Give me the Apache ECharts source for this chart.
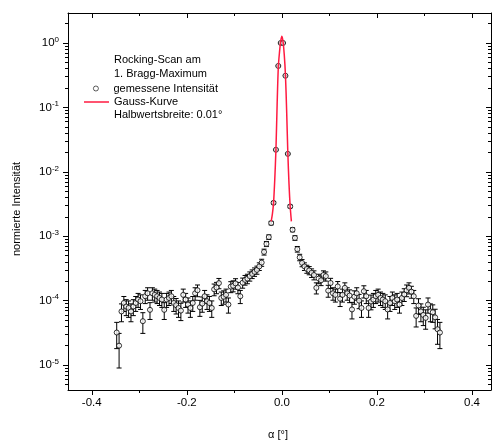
<!DOCTYPE html>
<html>
<head>
<meta charset="UTF-8">
<title>Rocking-Scan</title>
<script src="https://cdn.jsdelivr.net/npm/echarts@6/dist/echarts.min.js"></script>
<style>
  html, body { margin: 0; padding: 0; background: #fff; }
  #main { width: 492px; height: 441px; }
</style>
</head>
<body>
<div id="main"></div>
<script type="text/javascript">
// Winkel alpha [°]
var alpha = [
  -0.3475,-0.3425,-0.3375,-0.3325,-0.3275,-0.3225,-0.3175,-0.3125,-0.3075,-0.3025,
  -0.2975,-0.2925,-0.2875,-0.2825,-0.2775,-0.2725,-0.2675,-0.2625,-0.2575,-0.2525,
  -0.2475,-0.2425,-0.2375,-0.2325,-0.2275,-0.2225,-0.2175,-0.2125,-0.2075,-0.2025,
  -0.1975,-0.1925,-0.1875,-0.1825,-0.1775,-0.1725,-0.1675,-0.1625,-0.1575,-0.1525,
  -0.1475,-0.1425,-0.1375,-0.1325,-0.1275,-0.1225,-0.1175,-0.1125,-0.1075,-0.1025,
  -0.0975,-0.0925,-0.0875,-0.0825,-0.0775,-0.0725,-0.0675,-0.0625,-0.0575,-0.0525,
  -0.0475,-0.0425,-0.0375,-0.0325,-0.0275,-0.0225,-0.0175,-0.0125,-0.0075,-0.0025,
  0.0025,0.0075,0.0125,0.0175,0.0225,0.0275,0.0325,0.0375,0.0425,0.0475,
  0.0525,0.0575,0.0625,0.0675,0.0725,0.0775,0.0825,0.0875,0.0925,0.0975,
  0.1025,0.1075,0.1125,0.1175,0.1225,0.1275,0.1325,0.1375,0.1425,0.1475,
  0.1525,0.1575,0.1625,0.1675,0.1725,0.1775,0.1825,0.1875,0.1925,0.1975,
  0.2025,0.2075,0.2125,0.2175,0.2225,0.2275,0.2325,0.2375,0.2425,0.2475,
  0.2525,0.2575,0.2625,0.2675,0.2725,0.2775,0.2825,0.2875,0.2925,0.2975,
  0.3025,0.3075,0.3125,0.3175,0.3225,0.3275,0.3325
];
// gemessene Intensitaet (normiert)
var intensitaet = [
  3.2e-5,2.0e-5,6.8e-5,9.2e-5,8.1e-5,7.7e-5,6.8e-5,8.1e-5,9.2e-5,1.04e-4,
  9.8e-5,4.8e-5,1.17e-4,1.3e-4,7.2e-5,1.3e-4,1.23e-4,1.17e-4,1.1e-4,1.04e-4,
  7.2e-5,1.04e-4,1.1e-4,1.17e-4,9.2e-5,8.5e-5,7.7e-5,7.0e-5,1.23e-4,1.04e-4,
  8.7e-5,7.7e-5,9.2e-5,1.3e-4,1.45e-4,7.9e-5,9.0e-5,1.17e-4,9.8e-5,9.2e-5,
  7.7e-5,1.5e-4,1.6e-4,1.87e-4,1.1e-4,1.15e-4,1.23e-4,8.7e-5,1.65e-4,1.7e-4,
  1.85e-4,1.6e-4,1.17e-4,1.9e-4,2.1e-4,2.2e-4,2.4e-4,2.6e-4,2.8e-4,3.0e-4,
  3.4e-4,3.9e-4,5.7e-4,7.6e-4,9.7e-4,1.6e-3,3.3e-3,0.022,0.44,1.0,
  1.0,0.31,0.019,2.9e-3,1.26e-3,9.4e-4,6.3e-4,4.7e-4,3.85e-4,3.4e-4,
  3.1e-4,2.95e-4,2.7e-4,2.5e-4,1.58e-4,2.2e-4,2.07e-4,2.5e-4,2.4e-4,1.43e-4,
  1.88e-4,1.3e-4,1.23e-4,1.66e-4,1.07e-4,1.23e-4,1.58e-4,1.3e-4,1.2e-4,7.3e-5,
  1.15e-4,1.3e-4,1.0e-4,7.7e-5,1.4e-4,1.17e-4,7.7e-5,9.7e-5,1.04e-4,1.17e-4,
  1.23e-4,1.1e-4,1.04e-4,9.8e-5,7.3e-5,9.2e-5,1.1e-4,9.8e-5,1.04e-4,8.7e-5,
  1.1e-4,1.25e-4,1.45e-4,1.58e-4,1.38e-4,1.17e-4,5.8e-5,8.4e-5,6.8e-5,6.0e-5,
  5.4e-5,8.7e-5,6.8e-5,6.6e-5,5.5e-5,3.6e-5,3.2e-5
];
// Fehler (+/-)
var fehler = [
  1.4e-5,1.1e-5,2.1e-5,2.4e-5,2.25e-5,2.2e-5,2.1e-5,2.25e-5,2.4e-5,2.55e-5,
  2.5e-5,1.7e-5,2.7e-5,2.85e-5,2.1e-5,2.85e-5,2.8e-5,2.7e-5,2.6e-5,2.55e-5,
  2.1e-5,2.55e-5,2.6e-5,2.7e-5,2.4e-5,2.3e-5,2.2e-5,2.1e-5,2.8e-5,2.55e-5,
  2.3e-5,2.2e-5,2.4e-5,2.85e-5,3.0e-5,2.2e-5,2.4e-5,2.7e-5,2.5e-5,2.4e-5,
  2.2e-5,3.1e-5,3.2e-5,3.4e-5,2.6e-5,2.7e-5,2.8e-5,2.3e-5,3.2e-5,3.3e-5,
  3.4e-5,3.2e-5,2.7e-5,3.4e-5,3.6e-5,3.7e-5,3.9e-5,4.0e-5,4.2e-5,4.3e-5,
  4.6e-5,4.9e-5,6.0e-5,6.9e-5,7.8e-5,1.0e-4,1.4e-4,3.7e-4,1.7e-3,2.5e-3,
  2.5e-3,1.4e-3,3.4e-4,1.35e-4,8.9e-5,7.7e-5,6.3e-5,5.4e-5,4.9e-5,4.6e-5,
  4.4e-5,4.3e-5,4.1e-5,4.0e-5,3.1e-5,3.7e-5,3.6e-5,4.0e-5,3.9e-5,3.0e-5,
  3.4e-5,2.85e-5,2.8e-5,3.2e-5,2.6e-5,2.8e-5,3.1e-5,2.85e-5,2.7e-5,2.1e-5,
  2.7e-5,2.85e-5,2.5e-5,2.2e-5,3.0e-5,2.7e-5,2.2e-5,2.5e-5,2.55e-5,2.7e-5,
  2.8e-5,2.6e-5,2.55e-5,2.5e-5,2.1e-5,2.4e-5,2.6e-5,2.5e-5,2.55e-5,2.3e-5,
  2.6e-5,2.8e-5,3.0e-5,3.1e-5,2.9e-5,2.7e-5,1.9e-5,2.3e-5,2.1e-5,1.9e-5,
  1.8e-5,2.3e-5,2.1e-5,2.0e-5,1.85e-5,1.5e-5,1.4e-5
];
// Gauss-Kurve
var gaussX = [-0.0225,-0.020,-0.0175,-0.015,-0.0125,-0.010,-0.0075,-0.005,-0.0025,0,
              0.0025,0.005,0.0075,0.010,0.0125,0.015,0.0175,0.020];
var gaussY = [1.7e-3,2.2e-3,3.3e-3,7.5e-3,0.022,0.11,0.42,0.72,1.06,1.27,
              1.04,0.66,0.32,0.09,0.020,6.5e-3,2.9e-3,1.7e-3];

// Achsen
var xTicks = [-0.4,-0.2,0.0,0.2,0.4];
var xMinorTicks = [-0.3,-0.1,0.1,0.3];
var yTicks = [1e-5,1e-4,1e-3,1e-2,1e-1,1];
var yMinorFaktor = [2,3,4,5,6,7,8,9];
var xMin = -0.45, xMax = 0.44;
var yMin = 4.1e-6, yMax = 2.92;

var yMinorTicks = [];
[1e-6,1e-5,1e-4,1e-3,1e-2,1e-1,1].forEach(function (d) {
  yMinorFaktor.forEach(function (f) {
    var v = d * f;
    if (v > yMin && v < yMax) yMinorTicks.push(v);
  });
});

var punkte = [], balken = [], kurve = [];
for (var i = 0; i < alpha.length; i++) {
  punkte.push([alpha[i], intensitaet[i]]);
  balken.push([alpha[i], intensitaet[i] - fehler[i], intensitaet[i] + fehler[i]]);
}
for (var j = 0; j < gaussX.length; j++) {
  kurve.push([gaussX[j], gaussY[j]]);
}

var schrift = '"Liberation Sans", Arial, sans-serif';
var linie = { color: '#000', width: 1 };
var rot = '#ff1a40';

function xAchse(pos, werte, laenge, innen, mitLinie, mitLabel) {
  return {
    type: 'value', position: pos, min: xMin, max: xMax,
    axisLine: { show: mitLinie, onZero: false, lineStyle: linie },
    axisTick: { show: true, inside: innen, length: laenge, customValues: werte, lineStyle: linie },
    axisLabel: {
      show: mitLabel, customValues: werte, margin: 7,
      color: '#000', fontFamily: schrift, fontSize: 11.5,
      formatter: function (v) { return v.toFixed(1); }
    },
    splitLine: { show: false }
  };
}
function yAchse(pos, werte, laenge, innen, mitLinie, mitLabel) {
  return {
    type: 'log', logBase: 10, position: pos, min: yMin, max: yMax,
    axisLine: { show: mitLinie, onZero: false, lineStyle: linie },
    axisTick: { show: true, inside: innen, length: laenge, customValues: werte, lineStyle: linie },
    axisLabel: {
      show: mitLabel, customValues: werte, margin: 9,
      color: '#000', fontFamily: schrift,
      formatter: function (v) {
        var e = Math.round(Math.log(v) / Math.LN10);
        return '{b|10}{s|' + e + '}';
      },
      rich: {
        b: { fontSize: 11.5, fontFamily: schrift, color: '#000' },
        s: { fontSize: 8, fontFamily: schrift, color: '#000', padding: [0, 0, 7, 0] }
      }
    },
    splitLine: { show: false }
  };
}

var myChart = echarts.init(document.getElementById('main'), null, { renderer: 'canvas' });

var legendText = { color: '#000', fontFamily: schrift, fontSize: 11 };

var option = {
  animation: false,
  backgroundColor: '#fff',
  grid: { left: 68, right: 1, top: 13, bottom: 51 },
  xAxis: [
    xAchse('bottom', xTicks, 5, false, true, true),
    xAchse('bottom', xMinorTicks, 3, false, false, false),
    xAchse('top', xTicks, 5, true, true, false),
    xAchse('top', xMinorTicks, 3, true, false, false)
  ],
  yAxis: [
    yAchse('left', yTicks, 5, false, true, true),
    yAchse('right', yTicks, 5, true, true, false),
    yAchse('left', yMinorTicks, 3, false, false, false),
    yAchse('right', yMinorTicks, 3, true, false, false)
  ],
  legend: [
    {
      data: ['gemessene Intensität'],
      left: 93, top: 83, padding: 0,
      itemWidth: 25, itemHeight: 5,
      itemStyle: { borderWidth: 0.8 },
      selectedMode: false,
      textStyle: legendText
    },
    {
      data: [{ name: 'Gauss-Kurve', icon: 'rect' }],
      left: 84, top: 96.5, padding: 0,
      itemWidth: 25, itemHeight: 1.5,
      selectedMode: false,
      textStyle: legendText
    }
  ],
  graphic: [
    { type: 'text', left: 114, top: 54.5, style: { text: 'Rocking-Scan am', font: '11px ' + schrift, fill: '#000' } },
    { type: 'text', left: 114, top: 68.5, style: { text: '1. Bragg-Maximum', font: '11px ' + schrift, fill: '#000' } },
    { type: 'text', left: 114, top: 109.5, style: { text: 'Halbwertsbreite: 0.01°', font: '11px ' + schrift, fill: '#000' } },
    { type: 'text', x: 17, y: 209, rotation: Math.PI / 2,
      style: { text: 'normierte Intensität', font: '11px ' + schrift, fill: '#000', align: 'center', verticalAlign: 'middle' } },
    { type: 'text', x: 278, y: 435,
      style: { text: 'α [°]', font: '11px ' + schrift, fill: '#000', align: 'center', verticalAlign: 'middle' } }
  ],
  series: [
    {
      name: 'Fehler',
      type: 'custom',
      xAxisIndex: 0, yAxisIndex: 0,
      z: 2,
      silent: true,
      encode: { x: 0, y: [1, 2] },
      data: balken,
      renderItem: function (params, api) {
        var x = api.value(0);
        var oben = api.coord([x, api.value(2)]);
        var unten = api.coord([x, api.value(1)]);
        var w = 2.5;
        var st = { stroke: '#000', lineWidth: 1 };
        return {
          type: 'group',
          children: [
            { type: 'line', shape: { x1: oben[0], y1: oben[1], x2: unten[0], y2: unten[1] }, style: st },
            { type: 'line', shape: { x1: oben[0] - w, y1: oben[1], x2: oben[0] + w, y2: oben[1] }, style: st },
            { type: 'line', shape: { x1: unten[0] - w, y1: unten[1], x2: unten[0] + w, y2: unten[1] }, style: st }
          ]
        };
      }
    },
    {
      name: 'gemessene Intensität',
      type: 'scatter',
      xAxisIndex: 0, yAxisIndex: 0,
      z: 3,
      symbol: 'circle',
      symbolSize: 5,
      itemStyle: { color: '#fff', borderColor: '#000', borderWidth: 1 },
      emphasis: { disabled: true },
      data: punkte
    },
    {
      name: 'Gauss-Kurve',
      type: 'line',
      xAxisIndex: 0, yAxisIndex: 0,
      z: 4,
      smooth: 0.3,
      symbol: 'none',
      showSymbol: false,
      lineStyle: { color: rot, width: 1.5 },
      itemStyle: { color: rot },
      emphasis: { disabled: true },
      data: kurve
    }
  ]
};
myChart.setOption(option);
</script>
</body>
</html>
